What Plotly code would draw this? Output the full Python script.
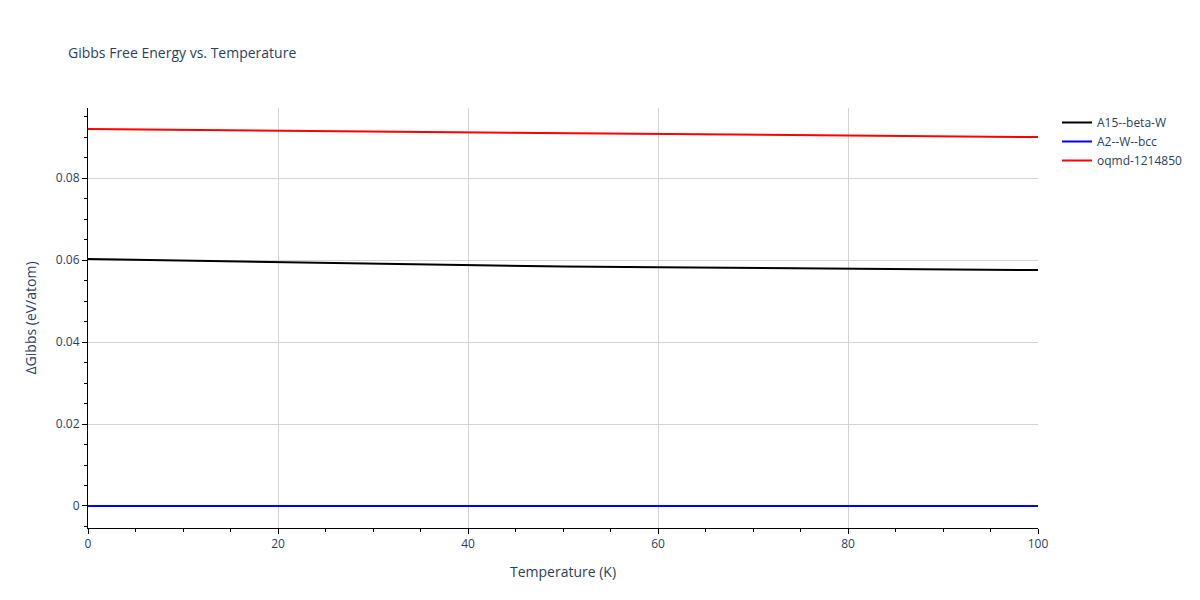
import plotly.graph_objects as go

temps = [0, 10, 20, 30, 40, 50, 60, 70, 80, 90, 100]
a15_beta_w = [0.06024, 0.05985, 0.05945, 0.05905, 0.05870, 0.05840, 0.05825, 0.05810, 0.05795, 0.05775, 0.05756]
a2_w_bcc = [0.0] * len(temps)
oqmd_1214850 = [0.09195, 0.09175, 0.09155, 0.09135, 0.09115, 0.09095, 0.09075, 0.09058, 0.09040, 0.09020, 0.09000]

fig = go.Figure()
fig.add_trace(go.Scatter(x=temps, y=a15_beta_w, mode='lines', name='A15--beta-W', line=dict(color='black', width=2)))
fig.add_trace(go.Scatter(x=temps, y=a2_w_bcc, mode='lines', name='A2--W--bcc', line=dict(color='blue', width=2)))
fig.add_trace(go.Scatter(x=temps, y=oqmd_1214850, mode='lines', name='oqmd-1214850', line=dict(color='red', width=2)))

axis_style = dict(
    showline=True, linecolor='black', linewidth=1,
    ticks='outside', tickcolor='black',
    showgrid=True, gridcolor='lightgrey', zeroline=False,
    minor=dict(ticks='outside', tickcolor='black', ticklen=3, showgrid=False),
)
fig.update_xaxes(title_text='Temperature (K)', range=[0, 100], **axis_style)
fig.update_yaxes(title_text='ΔGibbs (eV/atom)', range=[-0.00537, 0.0971], **axis_style)
fig.update_layout(
    title=dict(text='Gibbs Free Energy vs. Temperature', font=dict(size=14), x=0.05),
    plot_bgcolor='white', paper_bgcolor='white',
    width=1200, height=600,
    margin=dict(l=80, r=170, t=100, b=80),
)
fig.write_html('out.html')
